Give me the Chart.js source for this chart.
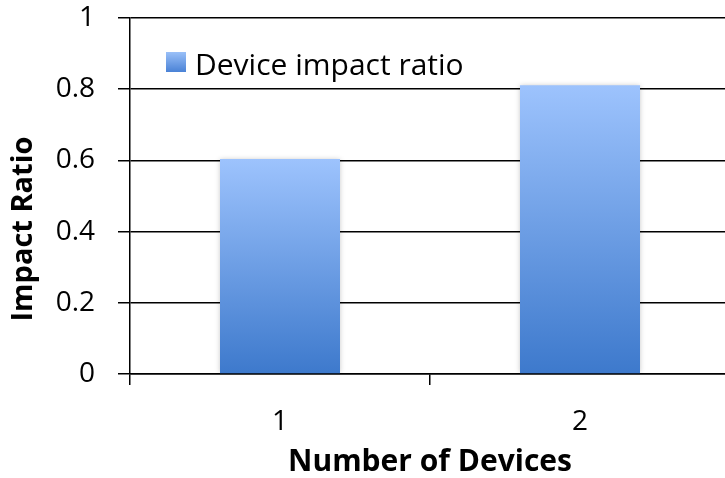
<!DOCTYPE html>
<html>
<head>
<meta charset="utf-8">
<script src="https://cdn.jsdelivr.net/npm/chart.js@4/dist/chart.umd.min.js"></script>
<style>
  html, body { margin: 0; padding: 0; background: #fff; overflow: hidden; }
  #wrap { width: 740px; height: 478px; }
</style>
</head>
<body>
<div id="wrap"><canvas id="c" width="740" height="478"></canvas></div>
<script>
// Device impact ratio by number of devices
const categories = ['1', '2'];
const impactRatio = [0.604, 0.811];
const seriesName = 'Device impact ratio';
const yTickLabels = ['0', '0.2', '0.4', '0.6', '0.8', '1'];
const xTitle = 'Number of Devices';
const yTitle = 'Impact Ratio';

const FONT = '"Open Sans", sans-serif';
const TOP_BLUE = '#9dc3fd';
const BOTTOM_BLUE = '#3d79cc';

// vertical gradient per bar, from its top down to the zero line
function barGradient(ctx) {
  const chart = ctx.chart;
  const y = chart.scales.y;
  if (!chart.chartArea || !y || ctx.dataIndex === undefined) return BOTTOM_BLUE;
  const top = y.getPixelForValue(impactRatio[ctx.dataIndex]);
  const base = y.getPixelForValue(0);
  const g = chart.ctx.createLinearGradient(0, top, 0, base);
  g.addColorStop(0, TOP_BLUE);
  g.addColorStop(1, BOTTOM_BLUE);
  return g;
}

// soft halo behind the bars
const barShadow = {
  id: 'barShadow',
  beforeDatasetsDraw(chart) {
    const c = chart.ctx;
    c.save();
    c.shadowColor = 'rgba(0,0,0,0.22)';
    c.shadowBlur = 5;
    c.shadowOffsetX = 0;
    c.shadowOffsetY = 0;
  },
  afterDatasetsDraw(chart) {
    chart.ctx.restore();
  }
};

// legend drawn inside the plot, top-left
const insideLegend = {
  id: 'insideLegend',
  afterDraw(chart) {
    const c = chart.ctx;
    const a = chart.chartArea;
    const bx = a.left + 36, by = a.top + 34, bs = 20;
    c.save();
    const g = c.createLinearGradient(0, by, 0, by + bs);
    g.addColorStop(0, '#9ac0f8');
    g.addColorStop(1, '#4a82d6');
    c.fillStyle = g;
    c.fillRect(bx, by, bs, bs);
    c.fillStyle = '#000';
    c.font = '30px ' + FONT;
    c.textAlign = 'left';
    c.textBaseline = 'alphabetic';
    c.fillText(chart.data.datasets[0].label, bx + 29, by + 23);
    c.restore();
  }
};

// rotated y-axis title
const yAxisTitle = {
  id: 'yAxisTitle',
  afterDraw(chart) {
    const c = chart.ctx;
    c.save();
    c.translate(32, 229);
    c.rotate(-Math.PI / 2);
    c.font = 'bold 29px ' + FONT;
    c.fillStyle = '#000';
    c.textAlign = 'center';
    c.textBaseline = 'alphabetic';
    c.fillText(yTitle, 0, 0);
    c.restore();
  }
};

new Chart(document.getElementById('c'), {
  type: 'bar',
  data: {
    labels: categories,
    datasets: [{
      label: seriesName,
      data: impactRatio,
      backgroundColor: barGradient,
      borderWidth: 0,
      categoryPercentage: 1.0,
      barPercentage: 0.4
    }]
  },
  plugins: [barShadow, insideLegend, yAxisTitle],
  options: {
    responsive: false,
    animation: false,
    devicePixelRatio: 1,
    layout: { padding: { top: 18, right: 10, left: 0, bottom: 0 } },
    plugins: {
      legend: { display: false },
      tooltip: { enabled: false }
    },
    scales: {
      x: {
        afterFit(s) { s.height = 104; s.paddingLeft = 0; s.paddingRight = 0; },
        grid: {
          offset: true,
          drawOnChartArea: false,
          drawTicks: true,
          tickLength: 11,
          color: '#000',
          lineWidth: 1.5
        },
        border: { color: '#000', width: 1.5 },
        ticks: {
          color: '#000',
          font: { family: FONT, size: 28 },
          padding: 20
        },
        title: {
          display: true,
          text: xTitle,
          color: '#000',
          font: { family: FONT, size: 30, weight: 'bold', lineHeight: 1 },
          padding: { top: 0, bottom: 1 }
        }
      },
      y: {
        min: 0,
        max: 1,
        afterFit(s) { s.width = 130; s.paddingTop = 0; s.paddingBottom = 0; },
        afterBuildTicks(s) {
          s.ticks = yTickLabels.map(t => ({ value: parseFloat(t) }));
        },
        grid: {
          color: '#000',
          lineWidth: 1.5,
          tickLength: 12
        },
        border: { color: '#000', width: 1.5 },
        ticks: {
          color: '#000',
          font: { family: FONT, size: 28 },
          padding: 23,
          callback: (v, i) => yTickLabels[i]
        }
      }
    }
  }
});
</script>
</body>
</html>
